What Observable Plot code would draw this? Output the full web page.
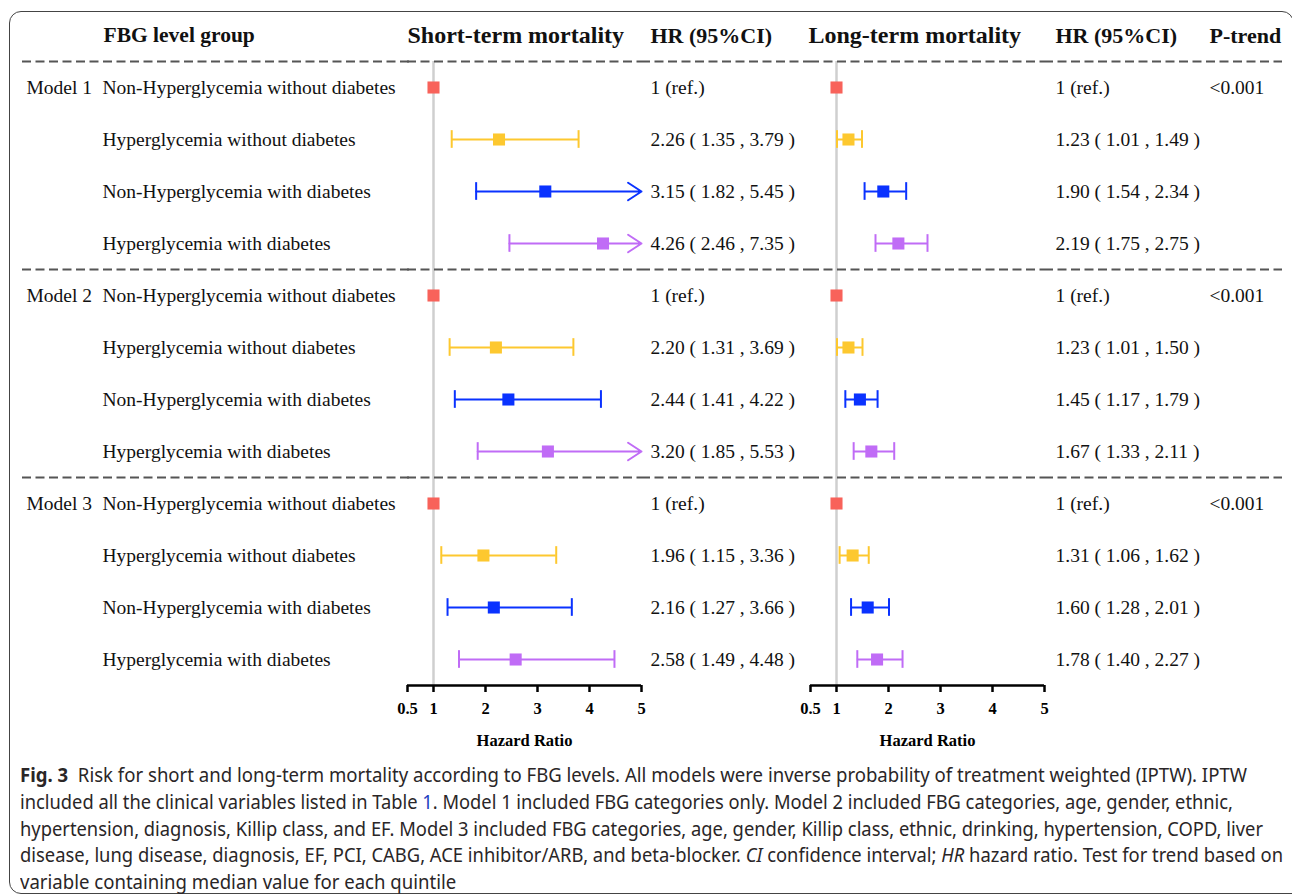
<!DOCTYPE html>
<html><head><meta charset="utf-8">
<script src="https://cdn.jsdelivr.net/npm/d3@7"></script>
<script src="https://cdn.jsdelivr.net/npm/@observablehq/plot@0.6"></script>
<style>
body{margin:0;background:#fff;width:1292px;height:894px;overflow:hidden;position:relative}
#frame{position:absolute;left:8.5px;top:10.5px;width:1285px;height:883px;border:1.3px solid #444;border-radius:12px 12px 0 12px;box-sizing:border-box}
.col{position:absolute;top:-1px}
.col svg{background:transparent;overflow:visible}
#caption{position:absolute;left:20px;top:762px;font-family:"Noto Sans","Open Sans",sans-serif;font-size:19px;line-height:26.8px;color:#2a2627;white-space:nowrap}
#caption .ln{display:block}
#caption .w{display:inline-block;transform-origin:0 50%}
#caption b{font-weight:bold}
#caption .ref{color:#1f3fbf}
</style></head><body>
<div id="frame"></div>
<div id="chart"></div>
<div id="caption"><span class="ln"><span class="w"><b>Fig. 3</b>&nbsp; Risk for short and long-term mortality according to FBG levels. All models were inverse probability of treatment weighted (IPTW). IPTW</span></span><span class="ln"><span class="w">included all the clinical variables listed in Table <span class="ref">1</span>. Model 1 included FBG categories only. Model 2 included FBG categories, age, gender, ethnic,</span></span><span class="ln"><span class="w">hypertension, diagnosis, Killip class, and EF. Model 3 included FBG categories, age, gender, Killip class, ethnic, drinking, hypertension, COPD, liver</span></span><span class="ln"><span class="w">disease, lung disease, diagnosis, EF, PCI, CABG, ACE inhibitor/ARB, and beta-blocker. <i>CI</i> confidence interval; <i>HR</i> hazard ratio. Test for trend based on</span></span><span class="ln"><span class="w">variable containing median value for each quintile</span></span></div>
<script>
// ---- data ----
const models = ["Model 1", "Model 2", "Model 3"];
const groups = ["Non-Hyperglycemia without diabetes", "Hyperglycemia without diabetes", "Non-Hyperglycemia with diabetes", "Hyperglycemia with diabetes"];
const groupColors = ["#f8625a", "#fdc82f", "#0a32ff", "#c06cf6"];
const pTrend = ["<0.001", "<0.001", "<0.001"];
const shortHR = [1, 2.26, 3.15, 4.26, 1, 2.20, 2.44, 3.20, 1, 1.96, 2.16, 2.58];
const shortLo = [null, 1.35, 1.82, 2.46, null, 1.31, 1.41, 1.85, null, 1.15, 1.27, 1.49];
const shortHi = [null, 3.79, 5.45, 7.35, null, 3.69, 4.22, 5.53, null, 3.36, 3.66, 4.48];
const longHR = [1, 1.23, 1.90, 2.19, 1, 1.23, 1.45, 1.67, 1, 1.31, 1.60, 1.78];
const longLo = [null, 1.01, 1.54, 1.75, null, 1.01, 1.17, 1.33, null, 1.06, 1.28, 1.40];
const longHi = [null, 1.49, 2.34, 2.75, null, 1.50, 1.79, 2.11, null, 1.62, 2.01, 2.27];
const xTicks = [0.5, 1, 2, 3, 4, 5];
const headers = {group: "FBG level group", short: "Short-term mortality", hr: "HR (95%CI)", long: "Long-term mortality", p: "P-trend"};
const axisTitle = "Hazard Ratio";

// ---- derived table ----
const fmt = (hr, lo, hi) => lo == null ? "1 (ref.)" : `${hr.toFixed(2)} ( ${lo.toFixed(2)} , ${hi.toFixed(2)} )`;
const rows = [];
models.forEach((m, mi) => groups.forEach((g, gi) => {
  const i = mi * groups.length + gi;
  rows.push({
    row: i, gi, model: gi === 0 ? m : "", group: g, col: groupColors[gi],
    sHR: shortHR[i], sLo: shortLo[i], sHi: shortHi[i],
    lHR: longHR[i], lLo: longLo[i], lHi: longHi[i],
    sTxt: fmt(shortHR[i], shortLo[i], shortHi[i]),
    lTxt: fmt(longHR[i], longLo[i], longHi[i]),
    p: gi === 0 ? pTrend[mi] : ""
  });
}));
const seps = rows.filter(d => d.gi === 0).map(d => d.row - 0.5);
const lastRow = rows.length - 1;
const xMin = xTicks[0], xMax = xTicks[xTicks.length - 1];

const H = 756, MT = 10, MB = 70;
const serif = '"Liberation Serif","Times New Roman",serif';
const ink = "#111";
const yScale = {domain: [lastRow + 0.5, -1.5], axis: null};
const dashed = (opts = {}) => Plot.ruleY(seps, {stroke: "#555", strokeWidth: 2, strokeDasharray: "9,4.5", ...opts});
const baseStyle = {fontFamily: serif, fontSize: "19.5px", color: ink, background: "transparent", overflow: "visible"};

function place(svg, left) {
  const d = document.createElement("div");
  d.className = "col"; d.style.left = left + "px";
  d.appendChild(svg);
  document.getElementById("chart").appendChild(d);
}

// labels column
place(Plot.plot({
  width: 410, height: H, marginTop: MT, marginBottom: MB, marginLeft: 22, marginRight: 0,
  y: yScale, style: baseStyle,
  marks: [
    dashed(),
    Plot.text([headers.group], {frameAnchor: "left", y: -1, dx: 81, fontSize: 21.5, fontWeight: "bold", fill: ink}),
    Plot.text(rows, {frameAnchor: "left", y: "row", text: "model", dx: 4, fill: ink}),
    Plot.text(rows, {frameAnchor: "left", y: "row", text: "group", dx: 80, fill: ink})
  ]
}), 0);

function forest(title, hrK, loK, hiK, titleDx) {
  const d = rows.map(r => ({row: r.row, col: r.col, hr: r[hrK], lo: r[loK], hi: r[hiK]}));
  const ci = d.filter(r => r.lo != null);
  const inside = ci.filter(r => r.hi <= xMax);
  const clipped = ci.filter(r => r.hi > xMax);
  const cap = 0.17;
  return Plot.plot({
    width: 280, height: H, marginTop: MT, marginBottom: MB, marginLeft: 27, marginRight: 19,
    x: {domain: [xMin, xMax], label: null},
    y: yScale, color: {type: "identity"}, style: baseStyle,
    marks: [
      Plot.ruleX([1], {y1: -0.5, y2: lastRow + 0.5, stroke: "#cfcfcf", strokeWidth: 2.5}),
      dashed(),
      Plot.ruleY(inside, {y: "row", x1: "lo", x2: "hi", stroke: "col", strokeWidth: 2}),
      Plot.ruleX(ci, {x: "lo", y1: r => r.row - cap, y2: r => r.row + cap, stroke: "col", strokeWidth: 2}),
      Plot.ruleX(inside, {x: "hi", y1: r => r.row - cap, y2: r => r.row + cap, stroke: "col", strokeWidth: 2}),
      Plot.arrow(clipped, {x1: "lo", x2: () => xMax, y1: "row", y2: "row", stroke: "col", strokeWidth: 2, headLength: 12, headAngle: 66}),
      Plot.dot(d, {x: "hr", y: "row", symbol: "square", r: 6.8, fill: "col", stroke: null}),
      Plot.ruleY([lastRow + 0.5], {x1: xMin, x2: xMax, stroke: "#000", strokeWidth: 2.5}),
      Plot.axisX({ticks: xTicks, tickSize: 7, tickPadding: 10, strokeWidth: 2.5, stroke: "#000", fontSize: 16.5, fontWeight: "bold", fill: "#000", tickFormat: v => String(v), label: null}),
      Plot.text([title], {frameAnchor: "left", y: -1, dx: titleDx, fontSize: 24, fontWeight: "bold", fill: ink}),
      Plot.text([axisTitle], {frameAnchor: "bottom", lineAnchor: "middle", dy: 55, fontSize: 16.5, fontWeight: "bold", fill: "#000"})
    ]
  });
}

place(forest(headers.short, "sHR", "sLo", "sHi", 0), 380);

// short HR text column
place(Plot.plot({
  width: 169, height: H, marginTop: MT, marginBottom: MB, marginLeft: 0, marginRight: 0,
  y: yScale, style: baseStyle,
  marks: [
    dashed(),
    Plot.text([headers.hr], {frameAnchor: "left", y: -1, dx: 9, fontSize: 22, fontWeight: "bold", fill: ink}),
    Plot.text(rows, {frameAnchor: "left", y: "row", text: "sTxt", dx: 9, fill: ink})
  ]
}), 641);

place(forest(headers.long, "lHR", "lLo", "lHi", -2), 783);

// long HR + P-trend column
place(Plot.plot({
  width: 238, height: H, marginTop: MT, marginBottom: MB, marginLeft: 0, marginRight: 0,
  y: yScale, style: baseStyle,
  marks: [
    dashed(),
    Plot.text([headers.hr], {frameAnchor: "left", y: -1, dx: 11, fontSize: 22, fontWeight: "bold", fill: ink}),
    Plot.text(rows, {frameAnchor: "left", y: "row", text: "lTxt", dx: 11, fill: ink}),
    Plot.text([headers.p], {frameAnchor: "left", y: -1, dx: 165, fontSize: 22, fontWeight: "bold", fill: ink}),
    Plot.text(rows, {frameAnchor: "left", y: "row", text: "p", dx: 165, fill: ink})
  ]
}), 1044);

// fit each caption line to the reference line length (last line uses first line's scale)
function fitCaption() {
  const targets = [1227, 1213, 1243, 1263, null];
  const spans = [...document.querySelectorAll("#caption .w")];
  spans.forEach(s => s.style.transform = "none");
  const widths = spans.map(s => s.getBoundingClientRect().width);
  if (!(widths[0] > 0)) return;
  const s0 = targets[0] / widths[0];
  spans.forEach((s, i) => {
    const k = targets[i] ? targets[i] / widths[i] : s0;
    s.style.transform = `scaleX(${k})`;
  });
}
fitCaption();
if (document.fonts && document.fonts.ready) document.fonts.ready.then(fitCaption);
</script>
</body></html>
